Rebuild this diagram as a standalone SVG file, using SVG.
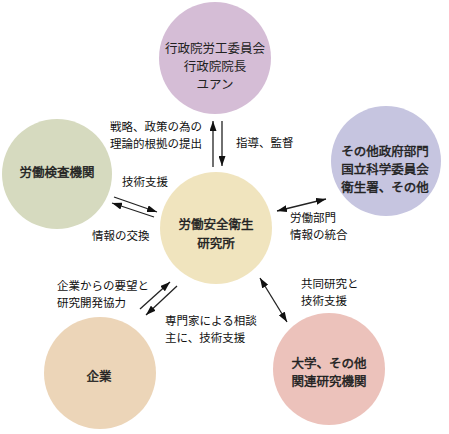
<svg xmlns="http://www.w3.org/2000/svg" width="449" height="434" viewBox="0 0 449 434">
<style>
.node text{font-family:"Noto Sans CJK JP","Noto Sans CJK SC",sans-serif;font-size:12.5px;fill:#222;text-anchor:middle}
.b text{stroke:#222;stroke-width:0.45}
.lbl{font-family:"Noto Sans CJK JP","Noto Sans CJK SC",sans-serif;font-size:11.5px;fill:#111}
.conn line{stroke:#222;stroke-width:1.3;fill:none}
</style>
<defs>
<marker id="ah" viewBox="0 0 10 8" refX="10" refY="4" markerWidth="10" markerHeight="7" markerUnits="userSpaceOnUse" orient="auto-start-reverse" preserveAspectRatio="none">
<path d="M0,0 L10,4 L0,8 Z" fill="#111"/>
</marker>
</defs>
<rect width="449" height="434" fill="#fff"/>
<g id="n-top" class="node">
<circle cx="215" cy="58" r="56" fill="#d5bdd6"/>
<text x="215" y="52.8">行政院労工委員会</text>
<text x="215" y="71">行政院院長</text>
<text x="215" y="89.2">ユアン</text>
</g>
<g id="n-left" class="node b">
<circle cx="57" cy="174" r="55" fill="#d6dabf"/>
<text x="57" y="177">労働検査機関</text>
</g>
<g id="n-right" class="node b">
<circle cx="386" cy="161" r="55" fill="#c6c5e0"/>
<text x="385" y="155.5">その他政府部門</text>
<text x="385" y="173.7">国立科学委員会</text>
<text x="385" y="191.9">衛生署、その他</text>
</g>
<g id="n-center" class="node b">
<circle cx="216" cy="228" r="56" fill="#f0e4be"/>
<text x="216" y="229.4">労働安全衛生</text>
<text x="216" y="247.6">研究所</text>
</g>
<g id="n-company" class="node b">
<circle cx="100" cy="373" r="56" fill="#ecd5b8"/>
<text x="99" y="381">企業</text>
</g>
<g id="n-univ" class="node b">
<circle cx="329" cy="369" r="56" fill="#ecc2bb"/>
<text x="329" y="367.9">大学、その他</text>
<text x="329" y="386.1">関連研究機関</text>
</g>
<g id="connectors" class="conn">
<line x1="213" y1="167" x2="213" y2="121" marker-end="url(#ah)"/>
<line x1="222" y1="121" x2="222" y2="166" marker-end="url(#ah)"/>
<line x1="114" y1="197" x2="157" y2="212" marker-end="url(#ah)"/>
<line x1="154" y1="217" x2="112" y2="203" marker-end="url(#ah)"/>
<line x1="277" y1="211" x2="326" y2="199" marker-start="url(#ah)" marker-end="url(#ah)"/>
<line x1="140" y1="309" x2="170" y2="282" marker-end="url(#ah)"/>
<line x1="177" y1="286" x2="146" y2="315" marker-end="url(#ah)"/>
<line x1="260" y1="278" x2="287" y2="322" marker-start="url(#ah)" marker-end="url(#ah)"/>
</g>
<g id="labels">
<text class="lbl" x="110" y="131">戦略、政策の為の</text>
<text class="lbl" x="110" y="148">理論的根拠の提出</text>
<text class="lbl" x="236" y="147">指導、監督</text>
<text class="lbl" x="122" y="186">技術支援</text>
<text class="lbl" x="92" y="240">情報の交換</text>
<text class="lbl" x="290" y="222">労働部門</text>
<text class="lbl" x="290" y="239">情報の統合</text>
<text class="lbl" x="57" y="289.5">企業からの要望と</text>
<text class="lbl" x="57" y="306.5">研究開発協力</text>
<text class="lbl" x="165" y="325">専門家による相談</text>
<text class="lbl" x="165" y="342">主に、技術支援</text>
<text class="lbl" x="301" y="287.5">共同研究と</text>
<text class="lbl" x="301" y="304.5">技術支援</text>
</g>
</svg>
